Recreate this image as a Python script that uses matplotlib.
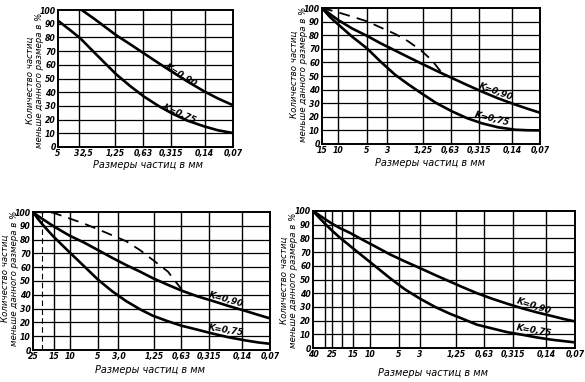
import matplotlib
matplotlib.use("Agg")
import matplotlib.pyplot as plt
from matplotlib.ticker import NullLocator, FixedLocator, FixedFormatter

plt.rcParams['font.family'] = ['DejaVu Sans']

# ---------------- data (particle size in mm, percent finer) ----------------
# Chart 1 (top-left)
ticks1 = [5, 3, 2.5, 1.25, 0.63, 0.315, 0.14, 0.07]
ticklab1 = ["5", "3", "2,5", "1,25", "0,63", "0,315", "0,14", "0,07"]
grid1 = [3, 1.25, 0.63, 0.315, 0.14]
s1_k75 = [5, 3.73, 2.92, 2.03, 1.215, 0.864, 0.614, 0.436, 0.31, 0.21, 0.142, 0.101, 0.07]
v1_k75 = [92.2, 85.4, 79.5, 68.5, 53.2, 44.6, 36.8, 30.2, 24.5, 19.1, 15.1, 12.2, 10.2]
s1_k90 = [2.8, 2.03, 1.215, 0.864, 0.614, 0.436, 0.31, 0.21, 0.142, 0.101, 0.07]
v1_k90 = [100, 93.2, 81.7, 75.1, 68.3, 61.5, 54.9, 47.6, 40.7, 35.4, 30.5]

# Chart 2 (top-right)
ticks2 = [15, 10, 5, 3, 1.25, 0.63, 0.315, 0.14, 0.07]
ticklab2 = ["15", "10", "5", "3", "1,25", "0,63", "0,315", "0,14", "0,07"]
grid2 = [10, 5, 3, 1.25, 0.63, 0.315, 0.14]
s2 = [15, 12.3, 10.1, 7.17, 4.95, 3.6, 2.49, 1.805, 1.31, 0.906, 0.611,
      0.422, 0.292, 0.197, 0.129, 0.094, 0.07]
v2_k90 = [100, 95.5, 91.2, 85, 79.5, 74.3, 68.8, 64, 59.3, 54, 48.5,
          43.4, 38.5, 33.6, 29, 25.8, 23]
v2_k75 = [100, 93.3, 88, 79, 70.3, 61, 51, 44, 37.5, 30.2, 24,
          19, 15.2, 12.3, 10.5, 10.1, 10]
s2_dash = [15, 10.1, 7.17, 4.95, 3.6, 2.49, 1.805, 1.31, 1.0, 0.763]
v2_dash = [100, 96.8, 93.7, 90.2, 85.9, 81, 75.6, 68.8, 61.5, 51.2]

# Chart 3 (bottom-left)
ticks3 = [25, 15, 10, 5, 3, 1.25, 0.63, 0.315, 0.14, 0.07]
ticklab3 = ["25", "15", "10", "5", "3,0", "1,25", "0,63", "0,315", "0,14", "0,07"]
grid3 = [15, 10, 5, 3, 1.25, 0.63, 0.315, 0.14]
grid3_dashed = [20]
s3 = [25, 22.1, 19.5, 15.2, 12.2, 9.99, 7.06, 4.99, 3.53, 2.49, 1.76,
      1.276, 0.88, 0.62, 0.428, 0.295, 0.198, 0.13, 0.0943, 0.07]
v3_k90 = [100, 97.1, 94.7, 89.9, 86.1, 82.7, 77.9, 72.4, 66.9, 61.6, 56.8,
          52, 47.2, 42.9, 39, 35.7, 32, 28.4, 25.5, 22.9]
v3_k75 = [100, 95, 90.5, 82.5, 76.2, 70.5, 60.8, 51, 42.7, 35.5, 29.5,
          24.8, 20.8, 17.5, 14.8, 12, 9.3, 7, 5.5, 4.5]
s3_dash = [25, 15.2, 9.99, 7.06, 4.99, 3.53, 2.49, 1.76, 1.276, 0.88, 0.62]
v3_dash = [100, 99.5, 95.2, 91.6, 87.5, 83.2, 78.9, 72.4, 65.2, 56.8, 43.5]

# Chart 4 (bottom-right)
ticks4 = [40, 25, 15, 10, 5, 3, 1.25, 0.63, 0.315, 0.14, 0.07]
ticklab4 = ["40", "25", "15", "10", "5", "3", "1,25", "0,63", "0,315", "0,14", "0,07"]
grid4 = [30, 25, 20, 15, 10, 5, 3, 1.25, 0.63, 0.315, 0.14]
s4 = [40, 33.8, 29.2, 24.6, 20.8, 16.3, 12.8, 8.9, 6.19, 4.31, 2.99, 2.08,
      1.449, 1.082, 0.752, 0.523, 0.364, 0.253, 0.176, 0.122, 0.0937, 0.07]
v4_k90 = [100, 96.6, 93.6, 90.3, 87.5, 84, 80, 74.2, 68.3, 63.2, 58.3, 53.3,
          48.5, 44.6, 40, 36, 32.4, 29, 26, 23.3, 21.3, 19.4]
v4_k75 = [100, 94.5, 90, 85, 80.5, 74.5, 68.6, 59.8, 51, 42.8, 36, 30,
          25, 21.5, 17, 14.3, 11.6, 9.7, 7.7, 6, 5.1, 4.1]

yticks = list(range(0, 101, 10))
ylabel_text = "Количество частиц\nменьше данного размера в %"
xlabel_text = "Размеры частиц в мм"
label90 = "K=0,90"
label75 = "K=0,75"

# ---------------- figure ----------------
W, H = 585, 382
fig = plt.figure(figsize=(W / 100, H / 100), dpi=100)

def px_axes(x0, y0, x1, y1):
    return fig.add_axes([x0 / W, 1 - y1 / H, (x1 - x0) / W, (y1 - y0) / H])

TXT = dict(style='italic', color='black')

def setup(ax, xmax, ticks, ticklabs, grid, grid_dashed=()):
    ax.set_xscale('log')
    ax.set_xlim(xmax, 0.07)
    ax.set_ylim(0, 100)
    ax.xaxis.set_major_locator(FixedLocator(ticks))
    ax.xaxis.set_major_formatter(FixedFormatter(ticklabs))
    ax.xaxis.set_minor_locator(NullLocator())
    ax.set_yticks(yticks)
    ax.set_yticklabels([str(t) for t in yticks])
    ax.tick_params(length=0, pad=1.5, labelsize=5.6)
    for lab in ax.get_xticklabels() + ax.get_yticklabels():
        lab.set_style('italic')
        lab.set_fontweight('bold')
    for y in yticks[1:-1]:
        ax.axhline(y, color='black', lw=0.9, zorder=1)
    for g in grid:
        ax.axvline(g, color='black', lw=1.0, zorder=1)
    for g in grid_dashed:
        ax.axvline(g, color='black', lw=0.8, ls=(0, (5, 3)), zorder=1)
    for sp in ax.spines.values():
        sp.set_linewidth(1.4)

def curve(ax, s, v, dashed=False):
    ax.plot(s, v, color='black', lw=1.3 if dashed else 1.9,
            ls=(0, (6, 4)) if dashed else '-', zorder=3,
            solid_capstyle='round', solid_joinstyle='round')

def klabel(ax, x, y, text, rot):
    ax.text(x, y, text, rotation=rot, rotation_mode='anchor', ha='center',
            va='center', fontsize=6.3, fontweight='bold', zorder=4, **TXT)

# Chart 1
ax1 = px_axes(58, 10, 233, 147)
setup(ax1, 5, ticks1, ticklab1, grid1)
ax1.get_xticklabels()[1].set_ha('right')
curve(ax1, s1_k75, v1_k75)
curve(ax1, s1_k90, v1_k90)
klabel(ax1, 0.25, 52, label90, -32)
klabel(ax1, 0.26, 24, label75, -24)

# Chart 2
ax2 = px_axes(322, 8, 540, 144)
setup(ax2, 15, ticks2, ticklab2, grid2)
curve(ax2, s2, v2_k90)
curve(ax2, s2, v2_k75)
curve(ax2, s2_dash, v2_dash, dashed=True)
klabel(ax2, 0.205, 38.5, label90, -20)
klabel(ax2, 0.23, 18.5, label75, -14)

# Chart 3
ax3 = px_axes(33, 212, 270, 350)
setup(ax3, 25, ticks3, ticklab3, grid3, grid3_dashed)
curve(ax3, s3, v3_k90)
curve(ax3, s3, v3_k75)
curve(ax3, s3_dash, v3_dash, dashed=True)
klabel(ax3, 0.21, 36.5, label90, -16)
klabel(ax3, 0.21, 14, label75, -9)

# Chart 4
ax4 = px_axes(313, 211, 575, 348)
setup(ax4, 40, ticks4, ticklab4, grid4)
curve(ax4, s4, v4_k90)
curve(ax4, s4, v4_k75)
klabel(ax4, 0.19, 30.5, label90, -18)
klabel(ax4, 0.19, 13, label75, -10)

# axis titles
def ylab(xc, yc):
    fig.text(xc / W, 1 - yc / H, ylabel_text, rotation=90, ha='center',
             va='center', fontsize=6.2, linespacing=1.0, **TXT)

def xlab(xc, yc):
    fig.text(xc / W, 1 - yc / H, xlabel_text, ha='center', va='center',
             fontsize=7, **TXT)

ylab(35, 80)
ylab(299, 74)
ylab(10, 278)
ylab(289, 280)
xlab(148, 165)
xlab(430, 163)
xlab(150, 370)
xlab(433, 373)

fig.savefig("out.png", dpi=100)
